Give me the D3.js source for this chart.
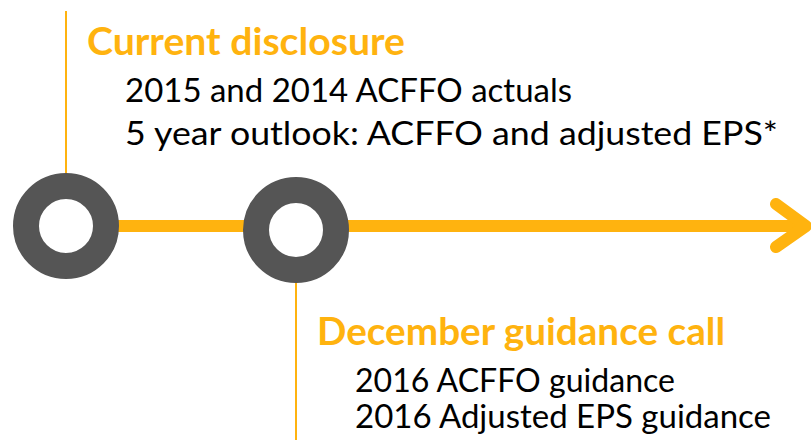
<!DOCTYPE html>
<html>
<head>
<meta charset="utf-8">
<script src="https://cdn.jsdelivr.net/npm/d3@7"></script>
<style>
  body { margin: 0; background: #fff; }
  svg { display: block; }
</style>
</head>
<body>
<svg id="chart" width="811" height="440"></svg>
<script>
// timeline content
const events = ["Current disclosure", "December guidance call"];
const eventSteps = [0, 1];
const details = [
  ["2015 and 2014 ACFFO actuals", "5 year outlook: ACFFO and adjusted EPS*"],
  ["2016 ACFFO guidance", "2016 Adjusted EPS guidance"]
];

const orange = "#FFB30F";
const grey = "#555555";
const W = 811, H = 440;
const axisY = 226;
const font = "Lato, 'Open Sans', sans-serif";

const svg = d3.select("#chart");
const x = d3.scaleLinear().domain([0, 1]).range([66, 296]);

// main arrow line
svg.append("line")
  .attr("x1", x(0)).attr("x2", 806)
  .attr("y1", axisY).attr("y2", axisY)
  .attr("stroke", orange).attr("stroke-width", 12);
svg.append("path")
  .attr("d", `M776,204 L806,${axisY} L776,247`)
  .attr("fill", "none").attr("stroke", orange)
  .attr("stroke-width", 12).attr("stroke-linecap", "round").attr("stroke-linejoin", "round");

// leader lines: first goes up, second goes down
svg.selectAll(".leader").data(eventSteps).join("line")
  .attr("class", "leader")
  .attr("x1", d => x(d)).attr("x2", d => x(d))
  .attr("y1", d => d % 2 === 0 ? 11 : axisY)
  .attr("y2", d => d % 2 === 0 ? axisY : H)
  .attr("stroke", orange).attr("stroke-width", 2);

// ring markers
svg.selectAll(".ring").data(eventSteps).join("circle")
  .attr("class", "ring")
  .attr("cx", d => x(d)).attr("cy", d => axisY + d * 4)
  .attr("r", 40)
  .attr("fill", "#fff").attr("stroke", grey).attr("stroke-width", 26);

// labels
const titleY = [55, 345];
const titleW = [318, 408];
const lineY = [[102, 145], [392, 428]];
const lineW = [[447, 653], [320, 416]];

const g = svg.selectAll(".label").data(eventSteps).join("g").attr("class", "label");
g.append("text")
  .attr("x", d => x(d) + 21)
  .attr("y", d => titleY[d])
  .attr("textLength", d => titleW[d])
  .attr("lengthAdjust", "spacingAndGlyphs")
  .attr("font-family", font)
  .attr("font-weight", "bold").attr("font-size", 38)
  .attr("fill", orange)
  .text(d => events[d]);

g.each(function(d) {
  d3.select(this).selectAll(".detail").data(details[d]).join("text")
    .attr("class", "detail")
    .attr("x", x(d) + 59)
    .attr("y", (t, i) => lineY[d][i])
    .attr("textLength", (t, i) => lineW[d][i])
    .attr("lengthAdjust", "spacingAndGlyphs")
    .attr("font-family", font)
    .attr("font-size", 32)
    .attr("fill", "#000")
    .text(t => t);
});
</script>
</body>
</html>
